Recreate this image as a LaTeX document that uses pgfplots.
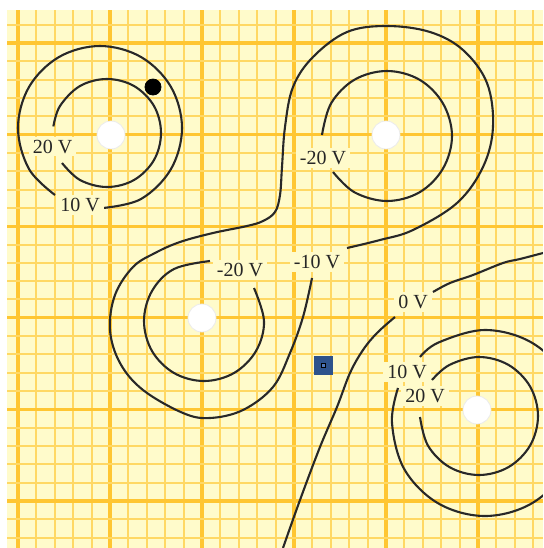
\documentclass[border=0pt]{standalone}
\usepackage{pgfplots}
\pgfplotsset{compat=1.18}
\usepackage{fontspec}
\setmainfont{Liberation Serif}
\definecolor{paper}{RGB}{255,251,203}
\definecolor{minorgrid}{RGB}{255,216,100}
\definecolor{majorgrid}{RGB}{255,198,50}
\definecolor{curve}{RGB}{40,40,40}
\definecolor{qblue}{RGB}{45,82,140}
\definecolor{qblueL}{RGB}{80,120,185}
\begin{document}
\begin{tikzpicture}
\begin{axis}[
  scale only axis, width=268pt, height=269pt,
  xmin=7, xmax=543, ymin=10, ymax=548, y dir=reverse,
  axis line style={draw=none},
  axis background/.style={fill=paper},
  xtick={18,110,202,294,386,478},
  ytick={43,134.6,226.2,317.8,409.4,501},
  minor xtick={36.4,54.8,73.2,91.6,128.4,146.8,165.2,183.6,220.4,238.8,257.2,275.6,312.4,330.8,349.2,367.6,404.4,422.8,441.2,459.6,496.4,514.8,533.2},
  minor ytick={24.68,61.32,79.64,97.96,116.28,152.92,171.24,189.56,207.88,244.52,262.84,281.16,299.48,336.12,354.44,372.76,391.08,427.72,446.04,464.36,482.68,519.32,537.64},
  minor tick num=0,
  xticklabels={}, yticklabels={},
  major tick length=0pt, minor tick length=0pt,
  grid=both,
  minor grid style={draw=minorgrid, line width=1pt},
  major grid style={draw=majorgrid, line width=1.6pt},
  eq/.style={draw=curve, line width=1.05pt, mark=none, solid},
  clip=true,
]
% TL inner 20 V
\addplot[eq, smooth, tension=0.6] coordinates {(53.4,126.4) (60,106) (80,86) (107,79) (134,86) (154,106) (161,133) (154,160) (134,180) (107,187) (80,180) (62,163)};
% TL outer 10 V
\addplot[eq, smooth, tension=0.6] coordinates {(55,195) (29,169) (18,128) (29,87) (59,57) (100,46) (141,57) (171,87) (182,128) (171,169) (141,199) (103,208)};
% TR inner -20 V
\addplot[eq, smooth, tension=0.6] coordinates {(322,135) (331,103.5) (354.5,79.7) (387,71) (419.5,79.7) (443,103.5) (452,136) (443,168.5) (419.5,192.3) (387,201) (354.5,192.3) (333,172)};
% M inner -20 V
\addplot[eq, smooth, tension=0.6] coordinates {(210,261) (174,269) (152,291) (144,321) (152,351) (174,373) (204,381) (234,373) (256,351) (264,321) (254,288)};
% -10 V
\addplot[eq, smooth, tension=0.6] coordinates {(347,248) (380,240) (413,230) (457,203) (483,167) (493,127) (487,83) (463,50) (430,32) (387,26) (347,32) (313,57) (293,87) (285,127) (282,167) (280,195) (275,212) (263,221) (247,226) (213,233) (180,242) (155,253) (133,267) (115,295) (110,330) (120,363) (143,390) (183,413) (210,418) (243,410) (273,387) (290,353) (303,317) (312,278)};
% 0 V
\addplot[eq, smooth, tension=0.6] coordinates {(283,548) (300,500) (320,447) (337,407) (350,373) (363,350) (377,333) (395,317)};
\addplot[eq, smooth, tension=0.6] coordinates {(433,292) (450,283) (473,275) (503,263) (520,259) (543,253)};
% BR outer 10 V
\addplot[eq, smooth, tension=0.6] coordinates {(398,388) (392,423) (404.5,469.5) (438.5,503.5) (485,516) (531.5,503.5) (565.5,469.5) (578,423) (565.5,376.5) (531.5,342.5) (485,330) (438.5,342.5) (420,357)};
% BR inner 20 V
\addplot[eq, smooth, tension=0.6] coordinates {(420,417) (427.9,445.5) (449.5,467.1) (479,475) (508.5,467.1) (530.1,445.5) (538,416) (530.1,386.5) (508.5,364.9) (479,357) (449.5,364.9) (432,380)};
% charges
\addplot[only marks, mark=*, mark size=7pt, mark options={fill=white, draw=black!8, line width=0.4pt}] coordinates {(111,135) (386,135) (202,318) (477,410)};
% black dot
\addplot[only marks, mark=*, mark size=4pt, mark options={fill=black, draw=black}] coordinates {(153,87)};
% blue square
\addplot[only marks, mark=square*, mark size=4.6pt, mark options={fill=qblue, draw=qblue, rounded corners=1.2pt}] coordinates {(323.5,365.5)};
\addplot[only marks, mark=square*, mark size=1.1pt, mark options={fill=qblueL, draw=none}] coordinates {(323.5,365.5)};
% labels
\begin{scope}[every node/.style={fill=paper, inner xsep=2pt, inner ysep=1.5pt, font=\fontsize{10}{12}\selectfont, text=black!85}]
\node at (axis cs:52.5,146.5) {20 V};
\node at (axis cs:80,205) {10 V};
\node at (axis cs:323,158) {-20 V};
\node at (axis cs:240,270) {-20 V};
\node at (axis cs:317,262) {-10 V};
\node at (axis cs:413,302) {0 V};
\node at (axis cs:407,372) {10 V};
\node at (axis cs:425,396) {20 V};
\end{scope}
\end{axis}
\pgfresetboundingbox
\path ([xshift=-3.5pt,yshift=5pt]current axis.north west) rectangle (current axis.south east);
\end{tikzpicture}
\end{document}
